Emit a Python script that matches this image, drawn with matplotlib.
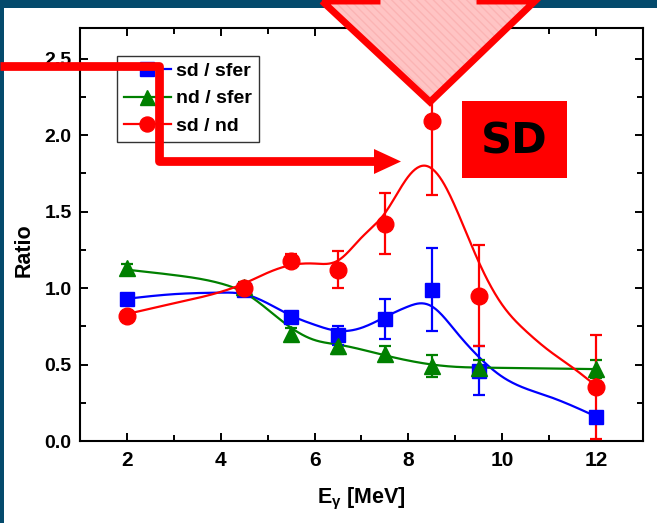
import matplotlib
matplotlib.use("Agg")
import matplotlib.pyplot as plt
import numpy as np
from matplotlib.lines import Line2D
from matplotlib.patches import Polygon, Rectangle

plt.rcParams["font.family"] = ["Liberation Sans", "DejaVu Sans"]
plt.rcParams["font.weight"] = "bold"
plt.rcParams["mathtext.fontset"] = "custom"
plt.rcParams["mathtext.rm"] = "Liberation Sans:bold"
plt.rcParams["mathtext.it"] = "Liberation Sans:bold"
plt.rcParams["mathtext.bf"] = "Liberation Sans:bold"

# measured ratios
energy = [2, 4.5, 5.5, 6.5, 7.5, 8.5, 9.5, 12]
sd_sfer = [0.93, 0.99, 0.81, 0.69, 0.80, 0.99, 0.46, 0.16]
sd_sfer_err = [0.02, 0.02, 0.03, 0.06, 0.13, 0.27, 0.16, 0.02]
nd_sfer = [1.13, 1.01, 0.70, 0.62, 0.57, 0.49, 0.48, 0.47]
nd_sfer_err = [0.03, 0.03, 0.04, 0.05, 0.05, 0.07, 0.05, 0.06]
sd_nd = [0.82, 1.00, 1.18, 1.12, 1.42, 2.09, 0.95, 0.35]
sd_nd_err = [0.02, 0.03, 0.04, 0.12, 0.20, 0.48, 0.33, 0.34]

# guide curves (knots of the smooth fits)
blue_fit_x = [2, 3, 4, 4.5, 5, 5.5, 6, 6.5, 7, 7.5, 8, 8.25, 8.5, 9, 9.5, 10, 11, 12]
blue_fit_y = [0.93, 0.96, 0.97, 0.96, 0.90, 0.82, 0.76, 0.72, 0.74, 0.81, 0.88, 0.90, 0.88,
              0.72, 0.55, 0.42, 0.29, 0.16]
green_fit_x = [2, 3, 4, 4.5, 5, 5.5, 6, 6.5, 7.5, 8.5, 9, 9.5, 10, 11, 12]
green_fit_y = [1.12, 1.085, 1.03, 0.97, 0.86, 0.74, 0.66, 0.63, 0.56, 0.50, 0.485, 0.48,
               0.478, 0.474, 0.47]
red_fit_x = [2, 3, 4, 4.5, 5, 5.5, 6, 6.5, 7, 7.5, 8, 8.35, 8.7, 9, 9.5, 10, 10.5, 11, 11.5, 12]
red_fit_y = [0.83, 0.90, 0.975, 1.03, 1.10, 1.15, 1.16, 1.18, 1.33, 1.49, 1.73, 1.80, 1.71,
             1.53, 1.17, 0.89, 0.72, 0.59, 0.48, 0.36]

labels = ["sd / sfer", "nd / sfer", "sd / nd"]
colors = ["#0000ff", "#008000", "#ff0000"]
markers = ["s", "^", "o"]


def natural_spline(xk, yk, num=400):
    xk = np.asarray(xk, float)
    yk = np.asarray(yk, float)
    n = len(xk)
    h = np.diff(xk)
    A = np.zeros((n, n))
    rhs = np.zeros(n)
    A[0, 0] = A[-1, -1] = 1.0
    for i in range(1, n - 1):
        A[i, i - 1] = h[i - 1]
        A[i, i] = 2 * (h[i - 1] + h[i])
        A[i, i + 1] = h[i]
        rhs[i] = 6 * ((yk[i + 1] - yk[i]) / h[i] - (yk[i] - yk[i - 1]) / h[i - 1])
    m = np.linalg.solve(A, rhs)
    xs = np.linspace(xk[0], xk[-1], num)
    j = np.clip(np.searchsorted(xk, xs) - 1, 0, n - 2)
    a = xk[j + 1] - xs
    b = xs - xk[j]
    hj = h[j]
    ys = (m[j] * a ** 3 + m[j + 1] * b ** 3) / (6 * hj) \
        + (yk[j] / hj - m[j] * hj / 6) * a + (yk[j + 1] / hj - m[j + 1] * hj / 6) * b
    return xs, ys


W, H = 657, 523
fig = plt.figure(figsize=(W / 100, H / 100), dpi=100, facecolor="white")
ax = fig.add_axes([80 / W, 1 - 441 / H, 563 / W, 413 / H])

series = [(sd_sfer, sd_sfer_err, blue_fit_x, blue_fit_y),
          (nd_sfer, nd_sfer_err, green_fit_x, green_fit_y),
          (sd_nd, sd_nd_err, red_fit_x, red_fit_y)]
sizes = [10.5, 12, 12]
handles = []
for (vals, errs, fx, fy), c, mk, ms, lab in zip(series, colors, markers, sizes, labels):
    xs, ys = natural_spline(fx, fy)
    ax.plot(xs, ys, color=c, lw=1.6, zorder=2)
    ax.errorbar(energy, vals, yerr=errs, fmt="none", ecolor=c, elinewidth=1.6,
                capsize=4, capthick=1.6, zorder=3)
    ax.plot(energy, vals, ls="none", marker=mk, ms=ms, color=c, mec=c, zorder=4)
    handles.append(Line2D([], [], color=c, lw=1.6, marker=mk, ms=ms * 0.9, mec=c, label=lab))

ax.set_xlim(1, 13)
ax.set_ylim(0, 2.7)
ax.set_xticks([2, 4, 6, 8, 10, 12])
ax.set_xticks([1, 3, 5, 7, 9, 11, 13], minor=True)
ax.set_yticks(np.arange(0, 2.51, 0.5))
ax.set_yticks(np.arange(0.25, 2.7, 0.5), minor=True)
ax.yaxis.set_major_formatter(matplotlib.ticker.FormatStrFormatter("%.1f"))
ax.tick_params(which="both", direction="in", top=True, right=True, width=1.4)
ax.tick_params(which="major", length=6)
ax.tick_params(which="minor", length=4)
ax.tick_params(axis="x", labelsize=15, pad=7)
ax.tick_params(axis="y", labelsize=14, pad=6)
for sp in ax.spines.values():
    sp.set_linewidth(1.5)

ax.set_xlabel(r"E$_\gamma$ [MeV]", fontsize=15.5, fontweight="bold", labelpad=12)
ax.set_ylabel("Ratio", fontsize=15.5, fontweight="bold")
ax.yaxis.set_label_coords(-0.08, 0.462)

leg = ax.legend(handles=handles, loc="upper left", bbox_to_anchor=(0.066, 0.933),
                fontsize=14, frameon=True, fancybox=False, handlelength=2.4,
                handletextpad=0.3, labelspacing=0.5, borderpad=0.35, borderaxespad=0)
leg.get_frame().set_edgecolor("black")
leg.get_frame().set_linewidth(1.0)

# slide decorations drawn in pixel coordinates
over = fig.add_axes([0, 0, 1, 1], zorder=10)
over.set_xlim(0, W)
over.set_ylim(H, 0)
over.axis("off")
over.patch.set_alpha(0)

band = "#044a6c"
over.add_patch(Rectangle((0, 0), W, 8, color=band, lw=0))
over.add_patch(Rectangle((0, 0), 4, H, color=band, lw=0))

arrow_pts = [(322, 1), (430, 102), (535, 1), (480, 1), (480, -60), (377, -60), (377, 1)]
over.add_patch(Polygon(arrow_pts, closed=True, facecolor="#ffc4c4", edgecolor="none"))
over.add_patch(Polygon(arrow_pts, closed=True, facecolor="none", edgecolor="#fbb4b4",
                       hatch="\\\\\\\\", lw=0))
over.add_patch(Polygon(arrow_pts, closed=True, facecolor="none", edgecolor="#ff0000",
                       lw=5, joinstyle="miter"))

over.plot([0, 159, 159, 377], [66, 66, 161, 161], color="#ff0000", lw=6.3,
          solid_joinstyle="round", solid_capstyle="butt")
over.add_patch(Polygon([(374, 149), (401, 161.5), (374, 174)], closed=True,
                       facecolor="#ff0000", edgecolor="none"))

over.add_patch(Rectangle((462, 101), 105, 77, facecolor="#ff0000", edgecolor="none"))
over.text(514, 141, "SD", ha="center", va="center", fontsize=31, fontweight="bold",
          family="DejaVu Sans", color="black")

fig.savefig("out.png", dpi=100, facecolor="white")
